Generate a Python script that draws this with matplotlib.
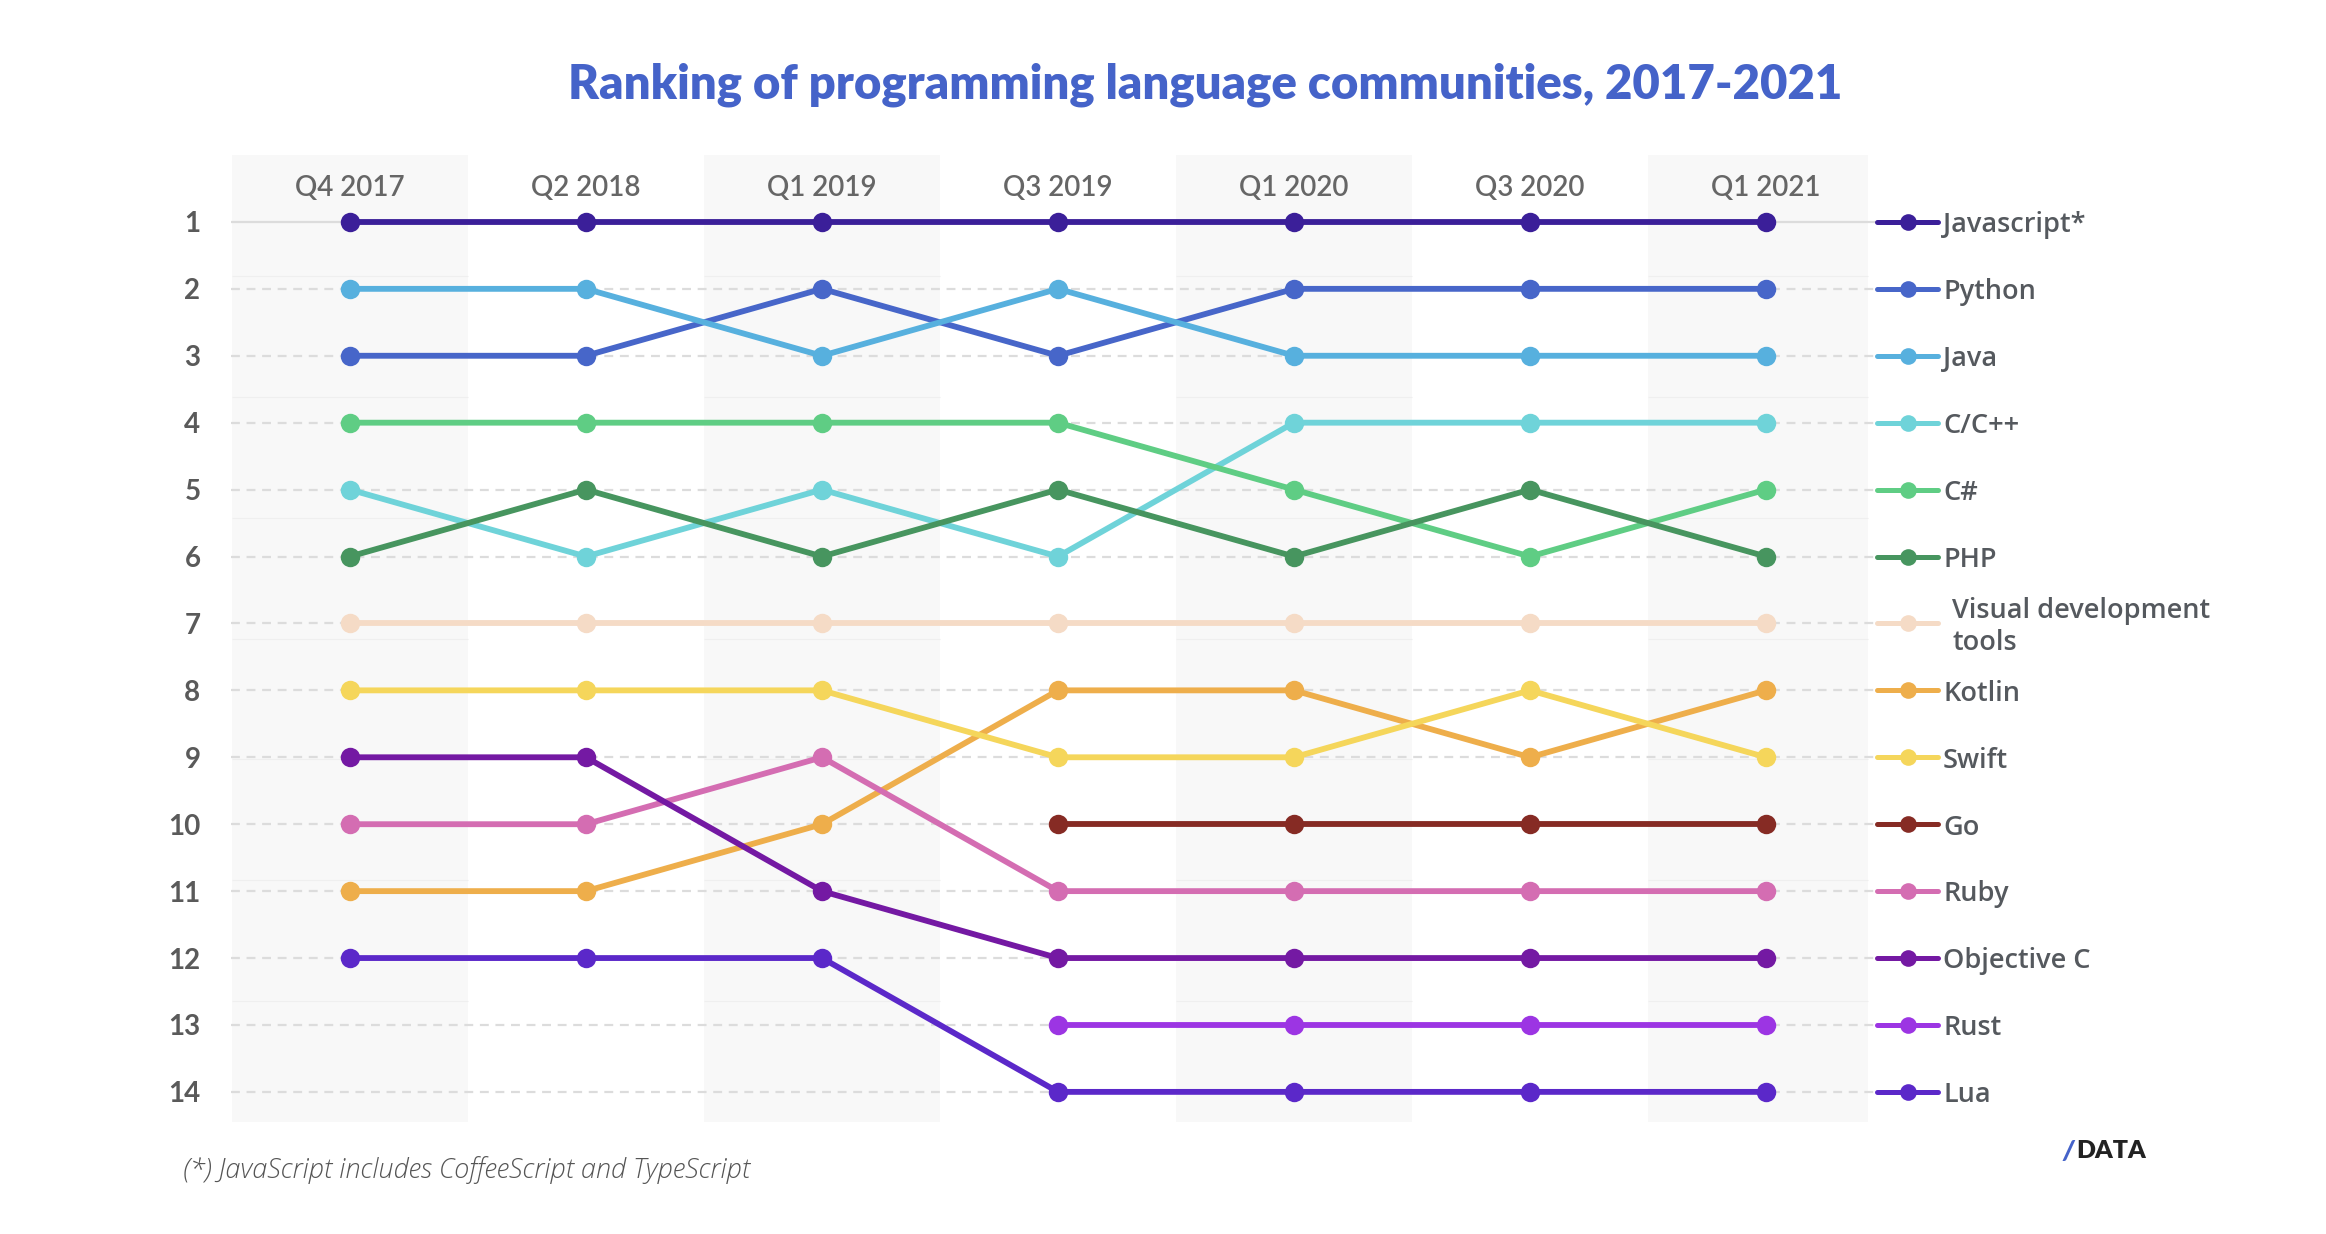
import numpy as np
import matplotlib
matplotlib.use('Agg')
import matplotlib.pyplot as plt

# quarters shown as columns
quarters = ['Q4 2017', 'Q2 2018', 'Q1 2019', 'Q3 2019', 'Q1 2020', 'Q3 2020', 'Q1 2021']

# ranks per language (None = not ranked yet)
javascript = [1, 1, 1, 1, 1, 1, 1]
python = [3, 3, 2, 3, 2, 2, 2]
java = [2, 2, 3, 2, 3, 3, 3]
c_cpp = [5, 6, 5, 6, 4, 4, 4]
c_sharp = [4, 4, 4, 4, 5, 6, 5]
php = [6, 5, 6, 5, 6, 5, 6]
visual_tools = [7, 7, 7, 7, 7, 7, 7]
kotlin = [11, 11, 10, 8, 8, 9, 8]
swift = [8, 8, 8, 9, 9, 8, 9]
go = [None, None, None, 10, 10, 10, 10]
ruby = [10, 10, 9, 11, 11, 11, 11]
objective_c = [9, 9, 11, 12, 12, 12, 12]
rust = [None, None, None, 13, 13, 13, 13]
lua = [12, 12, 12, 14, 14, 14, 14]

languages = ['Javascript*', 'Python', 'Java', 'C/C++', 'C#', 'PHP',
             'Visual development\ntools', 'Kotlin', 'Swift', 'Go', 'Ruby',
             'Objective C', 'Rust', 'Lua']
ranks = [javascript, python, java, c_cpp, c_sharp, php, visual_tools,
         kotlin, swift, go, ruby, objective_c, rust, lua]
colors = ['#3b1f99', '#4766c9', '#57b0de', '#6fd3d9', '#5fcd84', '#47955f',
          '#f5dbc6', '#eeae4b', '#f5d65b', '#862b24', '#d46db2', '#7419a3',
          '#9c35e3', '#5b28c9']

W, H = 2326, 1234
fig = plt.figure(figsize=(W / 100, H / 100), dpi=100)
fig.patch.set_facecolor('white')
ax = fig.add_axes([231 / W, 1 - 1122 / H, (1880 - 231) / W, (1122 - 155) / H])
ax.set_facecolor('none')

x = np.arange(len(quarters))
ax.set_xlim(-0.504, 6.483)
ax.set_ylim(14.45, 0.0)

# alternating shaded columns
band_right = 6.432
for i in range(0, len(quarters), 2):
    lo, hi = i - 0.5, min(i + 0.5, band_right)
    ax.axvspan(lo, hi, color='#f8f8f8', lw=0, zorder=0)
    for k in range(1, 8):
        yy = k * 14.45 / 8
        ax.hlines(yy, lo, hi, color='#efefef', lw=0.8, zorder=0.5)

# row guides
for r in range(1, 15):
    if r == 1:
        ax.axhline(r, color='#dcdcdc', lw=1.6, zorder=1)
    else:
        ax.axhline(r, color='#dcdcdc', lw=1.6, ls=(0, (4, 3)), zorder=1)

for name, vals, col in zip(languages, ranks, colors):
    xs = [xi for xi, v in zip(x, vals) if v is not None]
    ys = [v for v in vals if v is not None]
    ax.plot(xs, ys, color=col, lw=4.2, marker='o', markersize=14,
            markeredgewidth=0, solid_capstyle='round', zorder=3)
    # legend sample at the row of the last rank
    last = ys[-1]
    ax.plot([6.47, 6.73], [last, last], color=col, lw=3.6,
            solid_capstyle='round', clip_on=False, zorder=3)
    ax.plot([6.60], [last], color=col, marker='o', markersize=12,
            markeredgewidth=0, clip_on=False, zorder=4)
    tx = 6.79 if '\n' in name else 6.75
    ax.text(tx, last + 0.05, name, ha='left', va='center', fontsize=19.5,
            family='Open Sans', fontweight='semibold', color='#55595e',
            linespacing=1.2)

# column headers
for xi, q in zip(x, quarters):
    ax.text(xi, 0.49, q, ha='center', va='center', fontsize=20,
            family='Lato', fontweight='semibold', color='#666666')

ax.set_yticks(range(1, 15))
ax.set_yticklabels([str(r) for r in range(1, 15)], fontsize=20,
                   family='Lato', fontweight='bold', color='#5a5a5a')
ax.tick_params(axis='y', length=0, pad=22)
ax.set_xticks([])
for s in ax.spines.values():
    s.set_visible(False)

fig.text(1205 / W, 1 - 85 / H, 'Ranking of programming language communities, 2017-2021',
         ha='center', va='center', fontsize=34, family='Lato', fontweight='heavy',
         color='#4563c9')

fig.text(183 / W, 1 - 1170 / H, '(*) JavaScript includes CoffeeScript and TypeScript',
         ha='left', va='center', fontsize=19.5, family='Open Sans', fontweight='light',
         style='italic', color='#555555')

# logo
fig.text(2063 / W, 1 - 1151 / H, '/', ha='left', va='center', fontsize=19,
         family='Lato', fontweight='heavy', color='#4563c9', style='italic')
fig.text(2076 / W, 1 - 1151 / H, 'DATA', ha='left', va='center', fontsize=18,
         family='Lato', fontweight='heavy', color='#222222')

fig.savefig('out.png', dpi=100, facecolor='white')
